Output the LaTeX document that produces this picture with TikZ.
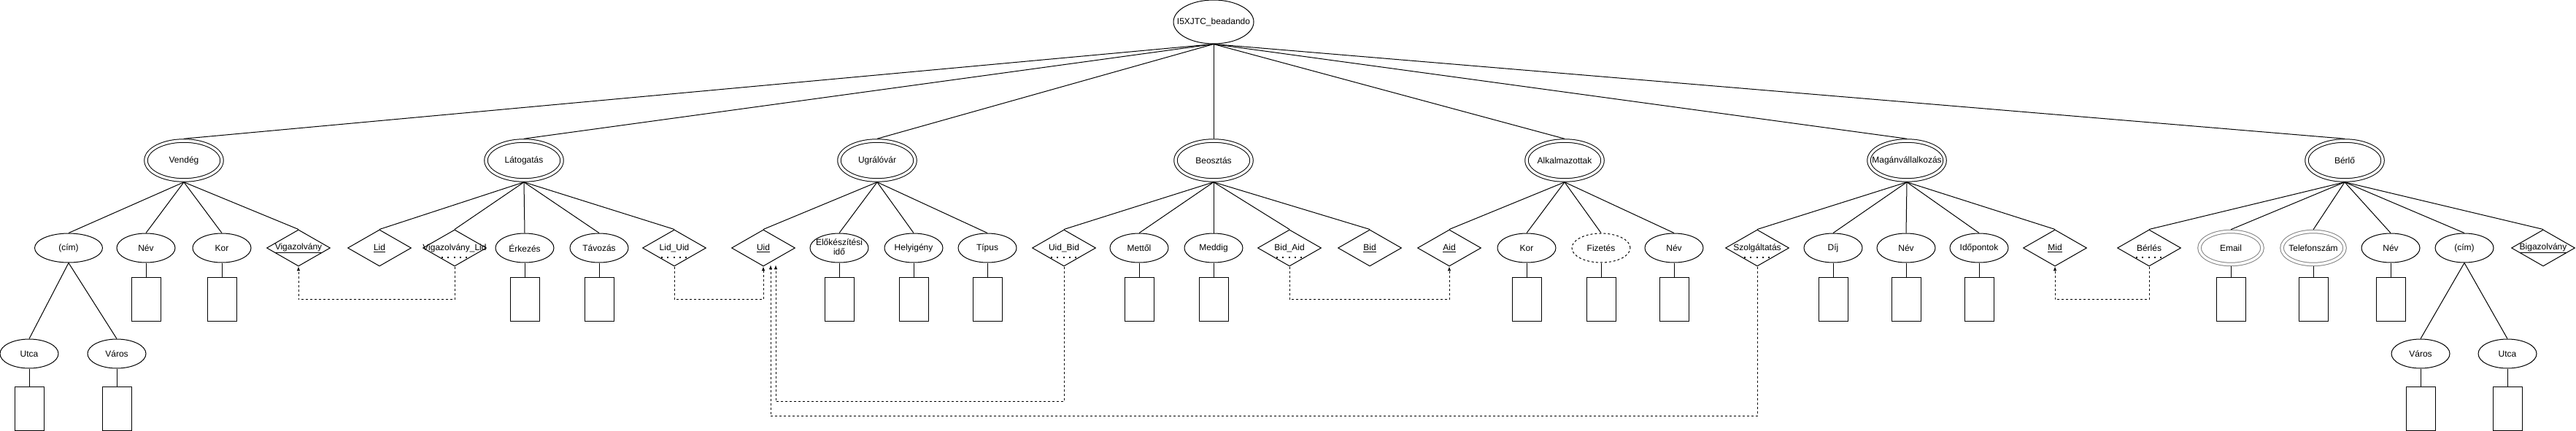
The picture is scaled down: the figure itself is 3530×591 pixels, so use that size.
\documentclass[tikz,border=0pt]{standalone}
\usepackage{fontspec}
\setmainfont{Liberation Sans}
\usetikzlibrary{shapes.geometric, positioning}
\newcommand{\nm}[1]{\makebox[0pt]{#1}}

\begin{document}
\begin{tikzpicture}[x=1pt, y=-1pt, node distance = {70pt}, line width=1pt,
	font=\fontsize{12}{14}\selectfont,
	root/.style = {draw, ellipse, inner sep=0pt, minimum width=110pt, minimum height=60pt},
	ent/.style = {draw, ellipse, double, double distance=3.5pt, inner sep=0pt, outer sep=2.75pt, minimum width=104pt, minimum height=54pt},
	attr/.style = {draw, ellipse, inner sep=0pt, minimum width=80pt, minimum height=40pt},
	multi/.style = {attr, draw=gray, double, double distance=3.5pt, outer sep=2.75pt, minimum width=86pt, minimum height=45pt},
	key/.style = {draw, diamond, inner sep=0pt, minimum width=87pt, minimum height=50pt},
	dom/.style = {draw, rectangle, minimum width=40pt, minimum height=60pt},
	dep/.style = {dashed, -latex},
	pk/.style = {line width=2pt, dash pattern=on 2pt off 6.3pt}]
	\useasboundingbox (0,0) rectangle (3530,591);

	\node[root] (0) at (1663,30) {\nm{I5XJTC\_beadando}};

	% egyedek
	\node[ent] (1) at (252,220) {\nm{Vendég}};
	\node[ent] (2) at (718,220) {\nm{Látogatás}};
	\node[ent] (3) at (1202,220) {\nm{Ugrálóvár}};
	\node[ent] (4) at (1663,220) {\nm{Beosztás}};
	\node[ent] (5) at (2144,220) {\nm{Alkalmazottak}};
	\node[ent] (6) at (2613,220) {\nm{Magánvállalkozás}};
	\node[ent] (7) at (3213,220) {\nm{Bérlő}};

	\draw (0.south) -- (1.north);
	\draw (0.south) -- (2.north);
	\draw (0.south) -- (3.north);
	\draw (0.south) -- (4.north);
	\draw (0.south) -- (5.north);
	\draw (0.south) -- (6.north);
	\draw (0.south) -- (7.north);

	% Vendég
	\node[attr, minimum width=93pt] (11) at (94,340) {\nm{(cím)}};
	\node[attr] (12) at (200,340) {\nm{Név}};
	\node[attr] (13) at (304,340) {\nm{Kor}};
	\node[key] (14) at (409,340) {\nm{\underline{Vigazolvány}}};
	\node[attr] (111) at (40,485) {\nm{Utca}};
	\node[attr] (112) at (160,485) {\nm{Város}};
	\node[dom] (12r) [below of=12] {};
	\node[dom] (13r) [below of=13] {};
	\node[dom, node distance=75pt] (111r) [below of=111] {};
	\node[dom, node distance=75pt] (112r) [below of=112] {};
	\draw (1.south) -- (11.north);
	\draw (1.south) -- (12.north);
	\draw (1.south) -- (13.north);
	\draw (1.south) -- (14.north);
	\draw (11.south) -- (111.north);
	\draw (11.south) -- (112.north);
	\draw (12) -- (12r);
	\draw (13) -- (13r);
	\draw (111) -- (111r);
	\draw (112) -- (112r);

	% Látogatás
	\node[key] (21) at (520,340) {\nm{\underline{Lid}}};
	\node[key] (22) at (623,340) {\nm{Vigazolvány\_Lid}};
	\node[attr] (23) at (719,340) {\nm{Érkezés}};
	\node[attr] (24) at (821,340) {\nm{Távozás}};
	\node[key] (25) at (924,340) {\nm{Lid\_Uid}};
	\node[dom] (23r) [below of=23] {};
	\node[dom] (24r) [below of=24] {};
	\draw (2.south) -- (21.north);
	\draw (2.south) -- (22.north);
	\draw (2.south) -- (23.north);
	\draw (2.south) -- (24.north);
	\draw (2.south) -- (25.north);
	\draw (23) -- (23r);
	\draw (24) -- (24r);

	% Ugrálóvár
	\node[key] (31) at (1046,340) {\nm{\underline{Uid}}};
	\node[attr] (32) at (1150,340) {\nm{\begin{tabular}{@{}c@{}}Előkészítési\\[-1pt]idő\end{tabular}}};
	\node[attr] (33) at (1252,340) {\nm{Helyigény}};
	\node[attr] (34) at (1353,340) {\nm{Típus}};
	\node[dom] (32r) [below of=32] {};
	\node[dom] (33r) [below of=33] {};
	\node[dom] (34r) [below of=34] {};
	\draw (3.south) -- (31.north);
	\draw (3.south) -- (32.north);
	\draw (3.south) -- (33.north);
	\draw (3.south) -- (34.north);
	\draw (32) -- (32r);
	\draw (33) -- (33r);
	\draw (34) -- (34r);

	% Beosztás
	\node[key] (41) at (1458,340) {\nm{Uid\_Bid}};
	\node[attr] (42) at (1561,340) {\nm{Mettől}};
	\node[attr] (43) at (1663,340) {\nm{Meddig}};
	\node[key] (44) at (1767,340) {\nm{Bid\_Aid}};
	\node[key] (45) at (1877,340) {\nm{\underline{Bid}}};
	\node[dom] (42r) [below of=42] {};
	\node[dom] (43r) [below of=43] {};
	\draw (4.south) -- (41.north);
	\draw (4.south) -- (42.north);
	\draw (4.south) -- (43.north);
	\draw (4.south) -- (44.north);
	\draw (4.south) -- (45.north);
	\draw (42) -- (42r);
	\draw (43) -- (43r);

	% Alkalmazottak
	\node[key] (51) at (1986,340) {\nm{\underline{Aid}}};
	\node[attr] (52) at (2092,340) {\nm{Kor}};
	\node[attr, dashed] (53) at (2194,340) {\nm{Fizetés}};
	\node[attr] (54) at (2294,340) {\nm{Név}};
	\node[dom] (52r) [below of=52] {};
	\node[dom] (53r) [below of=53] {};
	\node[dom] (54r) [below of=54] {};
	\draw (5.south) -- (51.north);
	\draw (5.south) -- (52.north);
	\draw (5.south) -- (53.north);
	\draw (5.south) -- (54.north);
	\draw (52) -- (52r);
	\draw (53) -- (53r);
	\draw (54) -- (54r);

	% Magánvállalkozás
	\node[key] (61) at (2408,340) {\nm{Szolgáltatás}};
	\node[attr] (62) at (2512,340) {\nm{Díj}};
	\node[attr] (63) at (2612,340) {\nm{Név}};
	\node[attr] (64) at (2712,340) {\nm{Időpontok}};
	\node[key] (65) at (2816,340) {\nm{\underline{Mid}}};
	\node[dom] (62r) [below of=62] {};
	\node[dom] (63r) [below of=63] {};
	\node[dom] (64r) [below of=64] {};
	\draw (6.south) -- (61.north);
	\draw (6.south) -- (62.north);
	\draw (6.south) -- (63.north);
	\draw (6.south) -- (64.north);
	\draw (6.south) -- (65.north);
	\draw (62) -- (62r);
	\draw (63) -- (63r);
	\draw (64) -- (64r);

	% Bérlő
	\node[key] (71) at (2945,340) {\nm{Bérlés}};
	\node[multi] (72) at (3057,340) {\nm{Email}};
	\node[multi] (73) at (3170,340) {\nm{Telefonszám}};
	\node[attr] (74) at (3276,340) {\nm{Név}};
	\node[attr] (75) at (3377,340) {\nm{(cím)}};
	\node[key] (76) at (3485,340) {\nm{\underline{Bigazolvány}}};
	\node[attr] (751) at (3317,485) {\nm{Város}};
	\node[attr] (752) at (3436,485) {\nm{Utca}};
	\node[dom] (72r) [below of=72] {};
	\node[dom] (73r) [below of=73] {};
	\node[dom] (74r) [below of=74] {};
	\node[dom, node distance=75pt] (751r) [below of=751] {};
	\node[dom, node distance=75pt] (752r) [below of=752] {};
	\draw (7.south) -- (71.north);
	\draw (7.south) -- (72.north);
	\draw (7.south) -- (73.north);
	\draw (7.south) -- (74.north);
	\draw (7.south) -- (75.north);
	\draw (7.south) -- (76.north);
	\draw (75.south) -- (751.north);
	\draw (75.south) -- (752.north);
	\draw (72) -- (72r);
	\draw (73) -- (73r);
	\draw (74) -- (74r);
	\draw (751) -- (751r);
	\draw (752) -- (752r);

	% részleges kulcsok
	\draw[pk] ([xshift=-18pt, yshift=-13pt]22.center) -- ([xshift=22pt, yshift=-13pt]22.center);
	\draw[pk] ([xshift=-18pt, yshift=-13pt]25.center) -- ([xshift=22pt, yshift=-13pt]25.center);
	\draw[pk] ([xshift=-18pt, yshift=-13pt]41.center) -- ([xshift=22pt, yshift=-13pt]41.center);
	\draw[pk] ([xshift=-18pt, yshift=-13pt]44.center) -- ([xshift=22pt, yshift=-13pt]44.center);
	\draw[pk] ([xshift=-18pt, yshift=-13pt]61.center) -- ([xshift=22pt, yshift=-13pt]61.center);
	\draw[pk] ([xshift=-18pt, yshift=-13pt]71.center) -- ([xshift=22pt, yshift=-13pt]71.center);

	% hivatkozások
	\draw[dep] (22.south) -- ++(0,45) -| (14.south);
	\draw[dep] (25.south) -- ++(0,45) -| (31.south);
	\draw[dep] (41.south) -- ++(0,185) -| ([xshift=17pt, yshift=2pt]31.south);
	\draw[dep] (61.south) -- ++(0,205) -| ([xshift=10pt, yshift=2pt]31.south);
	\draw[dep] (44.south) -- ++(0,45) -| (51.south);
	\draw[dep] (71.south) -- ++(0,45) -| (65.south);
\end{tikzpicture}
\end{document}
